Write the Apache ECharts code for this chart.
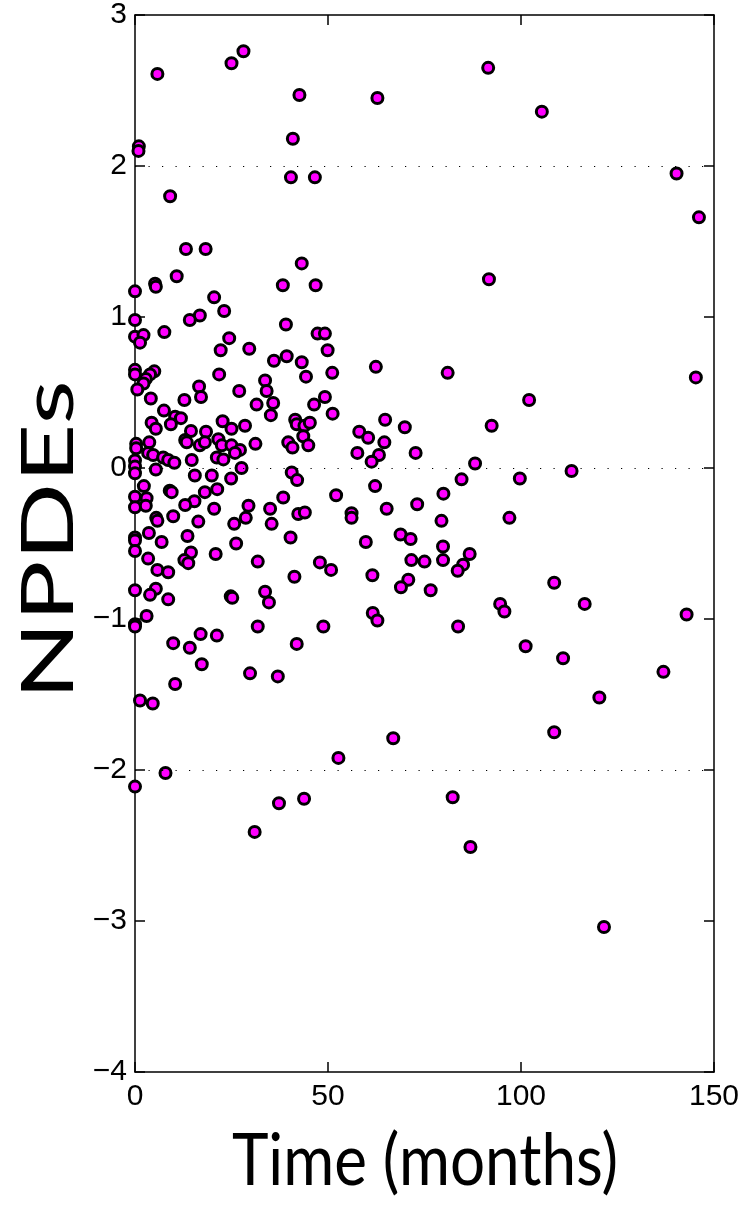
<!DOCTYPE html>
<html>
<head>
<meta charset="utf-8">
<script src="https://cdn.jsdelivr.net/npm/echarts@6/dist/echarts.min.js"></script>
<style>
html,body{margin:0;padding:0;background:#fff;}
#chart{width:747px;height:1207px;}
</style>
</head>
<body>
<div id="chart"></div>
<script>
// Time (months) values
const timeMonths = [
5.8,25.0,28.1,1.0,0.9,9.1,13.2,18.3,
10.8,5.2,5.4,0,20.5,23.1,16.8,14.2,0,7.6,0,2.2,1.3,24.4,22.2,29.6,0,0,5.0,3.9,2.8,2.2,0.6,21.8,16.6,17.1,27.0,12.8,4.1,31.5,7.5,10.4,11.9,9.3,4.3,5.4,22.7,25.0,28.5,14.5,18.4,13.0,13.4,16.8,18.1,21.6,22.5,25.0,27.2,25.9,31.2,0.3,0.3,3.7,3.4,4.7,7.3,8.6,10.2,14.7,21.2,22.9,0,0,0,5.4,27.6,15.5,19.9,24.9,
2.3,0,3.0,0,2.8,9.0,9.5,18.1,21.3,15.4,13.0,20.5,29.4,9.9,5.5,5.8,16.4,28.7,25.7,0,0,3.6,6.9,13.6,26.2,0,14.5,12.8,13.8,20.9,31.8,3.4,5.8,8.6,0,5.4,3.9,8.6,24.8,25.2,3.0,0,0,31.8,17.0,21.2,9.9,14.2,17.3,29.8,10.4,1.3,4.6,
7.9,0,31.0,
42.6,62.8,40.9,40.4,46.6,
43.2,38.3,46.8,39.1,47.3,49.2,49.9,39.3,36.0,43.2,44.3,51.1,62.4,33.7,34.1,49.2,35.8,46.4,35.2,51.2,41.5,41.9,43.9,45.3,43.6,58.1,60.4,64.8,64.6,39.7,40.8,44.9,57.6,63.2,61.3,40.6,42.0,
62.2,38.4,52.1,35.0,42.3,44.0,56.1,56.1,65.2,35.4,40.3,59.8,47.9,50.8,41.3,61.5,33.7,34.7,61.6,62.8,48.8,41.9,37.0,
52.7,37.3,43.8,
91.5,105.4,140.3,146.1,91.7,81.0,145.3,102.1,69.9,92.4,72.7,88.1,113.1,84.6,99.7,79.9,73.1,79.4,97.0,68.8,71.4,
71.6,75.0,79.8,79.8,86.7,85.0,83.6,70.8,68.9,76.6,108.6,116.5,94.6,95.7,142.9,83.7,101.2,110.9,136.9,120.3,108.6,66.9,82.3,86.9,121.5
];
// NPDE values (same order)
const npdeValues = [
2.61,2.68,2.76,2.13,2.10,1.80,1.45,1.45,
1.27,1.22,1.20,1.17,1.13,1.04,1.01,0.98,0.98,0.90,0.87,0.88,0.83,0.86,0.78,0.79,0.65,0.62,0.64,0.62,0.59,0.56,0.52,0.62,0.54,0.47,0.51,0.45,0.46,0.42,0.38,0.34,0.33,0.29,0.30,0.26,0.31,0.26,0.28,0.245,0.24,0.185,0.17,0.15,0.17,0.19,0.15,0.15,0.12,0.10,0.16,0.16,0.13,0.17,0.10,0.086,0.07,0.053,0.035,0.053,0.07,0.057,0.05,0.01,-0.035,-0.01,0.0,-0.05,-0.05,-0.07,
-0.12,-0.19,-0.20,-0.26,-0.25,-0.15,-0.16,-0.16,-0.14,-0.22,-0.245,-0.27,-0.25,-0.32,-0.33,-0.35,-0.355,-0.33,-0.37,-0.46,-0.48,-0.43,-0.49,-0.45,-0.50,-0.55,-0.56,-0.61,-0.63,-0.57,-0.62,-0.60,-0.675,-0.69,-0.81,-0.80,-0.84,-0.87,-0.85,-0.86,-0.98,-1.035,-1.05,-1.05,-1.10,-1.11,-1.16,-1.19,-1.30,-1.36,-1.43,-1.54,-1.56,
-2.02,-2.11,-2.41,
2.47,2.45,2.18,1.925,1.925,
1.355,1.21,1.21,0.95,0.89,0.89,0.78,0.74,0.71,0.70,0.605,0.63,0.67,0.58,0.51,0.47,0.43,0.42,0.35,0.36,0.32,0.29,0.28,0.30,0.21,0.24,0.20,0.32,0.17,0.17,0.135,0.15,0.10,0.086,0.042,-0.03,-0.08,
-0.12,-0.195,-0.18,-0.27,-0.305,-0.295,-0.30,-0.33,-0.27,-0.37,-0.46,-0.49,-0.625,-0.675,-0.72,-0.71,-0.82,-0.89,-0.96,-1.01,-1.05,-1.165,-1.38,
-1.92,-2.22,-2.19,
2.65,2.36,1.95,1.66,1.25,0.63,0.60,0.45,0.27,0.28,0.10,0.03,-0.02,-0.075,-0.07,-0.17,-0.24,-0.35,-0.33,-0.44,-0.47,
-0.61,-0.62,-0.52,-0.61,-0.57,-0.64,-0.68,-0.74,-0.79,-0.81,-0.76,-0.90,-0.90,-0.95,-0.97,-1.05,-1.18,-1.26,-1.35,-1.52,-1.75,-1.79,-2.18,-2.51,-3.04
];
const xTicks = [0, 50, 100, 150];
const yTicks = [-4, -3, -2, -1, 0, 1, 2, 3];
const dottedLevels = [2, 0, -2];
const xTitle = 'Time (months)';
const yTitle = 'NPDEs';

const points = timeMonths.map((t, i) => [t, npdeValues[i]]);
const fmtY = v => (v < 0 ? '\u2212' + Math.abs(v) : String(v));
const tickFont = "'Liberation Sans Narrow', 'Liberation Sans', sans-serif";

const chart = echarts.init(document.getElementById('chart'), null, {renderer: 'canvas'});
const tickStyle = {show: true, inside: true, length: 10, lineStyle: {color: '#000', width: 1.5}};
const lineStyle = {show: true, onZero: false, lineStyle: {color: '#000', width: 1.5}};
chart.setOption({
  animation: false,
  backgroundColor: '#fff',
  grid: {left: 135, right: 33, top: 14, bottom: 135, containLabel: false},
  xAxis: [
    {type: 'value', position: 'bottom', min: xTicks[0], max: xTicks[xTicks.length - 1], interval: 50,
     axisLine: lineStyle, axisTick: tickStyle, splitLine: {show: false},
     axisLabel: {show: true, margin: 10, color: '#000', fontSize: 30, fontFamily: tickFont}},
    {type: 'value', position: 'top', min: xTicks[0], max: xTicks[xTicks.length - 1], interval: 50,
     axisLine: lineStyle, axisTick: tickStyle, axisLabel: {show: false}, splitLine: {show: false}}
  ],
  yAxis: [
    {type: 'value', position: 'left', min: yTicks[0], max: yTicks[yTicks.length - 1], interval: 1,
     axisLine: lineStyle, axisTick: tickStyle, splitLine: {show: false},
     axisLabel: {show: true, margin: 8, color: '#000', fontSize: 30, fontFamily: tickFont, formatter: fmtY}},
    {type: 'value', position: 'right', min: yTicks[0], max: yTicks[yTicks.length - 1], interval: 1,
     axisLine: lineStyle, axisTick: tickStyle, axisLabel: {show: false}, splitLine: {show: false}}
  ],
  graphic: [
    {type: 'text', x: 425, y: 1162, scaleY: 1.15,
     style: {text: xTitle, fontSize: 62, fontFamily: 'Lato', fill: '#000', align: 'center', verticalAlign: 'middle'}},
    {type: 'text', x: 50, y: 540, rotation: Math.PI / 2, scaleX: 1.42,
     style: {text: yTitle, fontSize: 72, fontFamily: 'Lato', fill: '#000', align: 'center', verticalAlign: 'middle'}}
  ],
  series: [{
    type: 'scatter',
    xAxisIndex: 0, yAxisIndex: 0,
    data: points,
    symbol: 'circle',
    symbolSize: 11,
    itemStyle: {color: '#ff00ff', borderColor: '#000', borderWidth: 3, opacity: 1},
    markLine: {
      silent: true, symbol: 'none', label: {show: false},
      lineStyle: {color: '#000', width: 1.2, type: [1.2, 12.3]},
      data: dottedLevels.map(v => ({yAxis: v}))
    },
    z: 3
  }]
});
</script>
</body>
</html>
